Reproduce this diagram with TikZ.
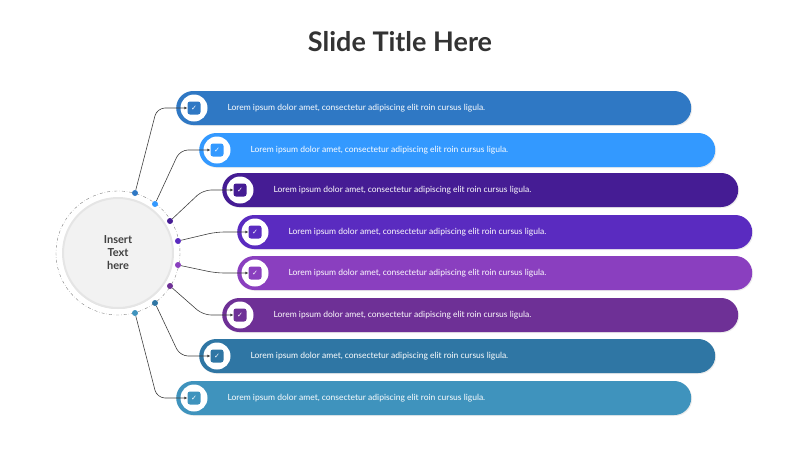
\documentclass[tikz,border=0pt]{standalone}
\usepackage{fontspec}
\setmainfont{Lato}
\newfontfamily\symf{DejaVu Sans}
\usetikzlibrary{arrows.meta,shadows}
\definecolor{c1}{HTML}{2F78C4}\definecolor{c2}{HTML}{3399FF}
\definecolor{c3}{HTML}{451C94}\definecolor{c4}{HTML}{5A2BC0}
\definecolor{c5}{HTML}{8A3FBF}\definecolor{c6}{HTML}{6E3096}
\definecolor{c7}{HTML}{2F76A4}\definecolor{c8}{HTML}{3F93BD}
\tikzset{
 barbox/.style={rounded corners=17pt,minimum height=34pt,inner sep=0pt,anchor=west,draw=none},
 iconring/.style={circle,fill=white,minimum size=27pt,inner sep=0pt},
 iconsq/.style={rounded corners=2.5pt,minimum size=13pt,inner sep=0pt,text=white,font=\symf\bfseries\fontsize{7}{7}\selectfont},
 link/.style={draw=black!75,line width=0.6pt,rounded corners=8pt,-{Latex[length=3pt,width=3pt]}},
 dotn/.style={circle,minimum size=6pt,inner sep=0pt},
 bartext/.style={text=white,font=\fontsize{8.5}{10}\selectfont,anchor=west}
}
\begin{document}
\begin{tikzpicture}[x=1pt,y=-1pt]
\useasboundingbox (0,0) rectangle (800,450);
\node[font=\bfseries\fontsize{27}{30}\selectfont,text=black!80] (title) at (400,42) {Slide Title Here};
\draw[black!50,dash dot,line width=0.4pt] (118,253) circle (62);
\node[circle,minimum size=110pt,fill=black!5,draw=black!10,line width=2pt,drop shadow={opacity=0.25,shadow xshift=0pt,shadow yshift=-1pt},font=\bfseries\fontsize{11}{13}\selectfont,align=center,text=black!75] (hub) at (118,253) {Insert\\Text\\here};
\foreach \i/\y/\l/\r/\c/\dx/\dy/\bx in {1/108/176/691/c1/135/193/157,2/150/199/715/c2/155/204/180,3/190/222/738/c3/170/221/203,4/232/237/752/c4/178/241/216,5/273/237/752/c5/178/265/216,6/315/222/738/c6/170/286/203,7/356/199/715/c7/155/303/180,8/398/176/691/c8/135/313/157}{
  \pgfmathsetmacro{\w}{\r-\l}
  \node[barbox,fill=\c,minimum width=\w pt,drop shadow={opacity=0.15,shadow xshift=1pt,shadow yshift=-1pt}] (bar\i) at (\l,\y) {};
  \node[iconring] (ring\i) at (\l+18,\y) {};
  \node[iconsq,fill=\c] (sq\i) at (\l+18,\y) {✓};
  \node[bartext] (t\i) at (\l+48,\y) {Lorem ipsum dolor amet, consectetur adipiscing elit roin cursus ligula.};
  \node[dotn,fill=\c] (d\i) at (\dx,\dy) {};
  \draw[link] (d\i) -- (\bx,\y) -- (sq\i.west);
}
\end{tikzpicture}
\end{document}
